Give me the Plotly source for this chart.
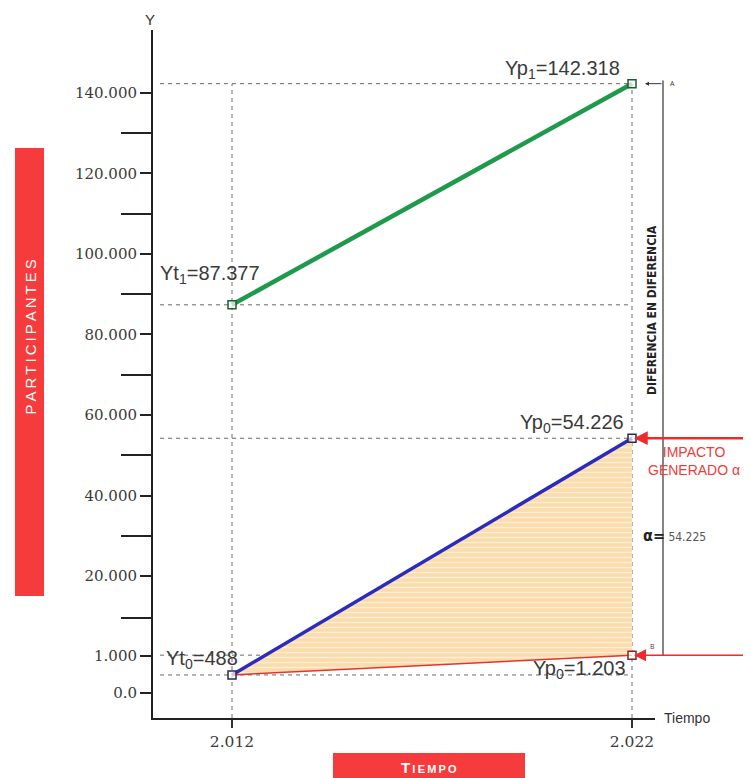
import numpy as np
import plotly.graph_objects as go

# ---------------- data ----------------
years = [2012, 2022]
x_tick_labels = ["2.012", "2.022"]
treated = [87377, 142318]          # Yt1 -> Yp1 (green)
counterfactual = [488, 54226]      # Yt0 -> Yp0 (blue)
control = [488, 1203]              # Yt0 -> Yp0 (red)
y_tick_values = [0, 1000, 20000, 40000, 60000, 80000, 100000, 120000, 140000]
y_tick_labels = ["0.0", "1.000", "20.000", "40.000", "60.000", "80.000",
                 "100.000", "120.000", "140.000"]
y_minor_values = [10000, 30000, 50000, 70000, 90000, 110000, 130000]
alpha_value = "54.225"

# ---------------- broken (piecewise linear) y scale ----------------
BREAK_VALUES = [0, 1000, 20000, 200000]
BREAK_UNITS = [-9.07, 0.12, 20.0, 200.0]


def scale(v):
    return np.interp(np.asarray(v, dtype=float), BREAK_VALUES, BREAK_UNITS)


def fmt(v):
    return f"{v:,}".replace(",", ".")


# ---------------- layout geometry ----------------
# the page body has an 8px margin, so the figure is 8px smaller than the window
BODY = 8
W, H = 751 - BODY, 778 - BODY
PL, PR, PT, PB = 153, 655, 30, 718          # plot area in page pixels
ML, MR, MT, MB = PL - BODY, 751 - PR, PT - BODY, 778 - PB
PW, PH = PR - PL, PB - PT
Y_RANGE = [-15.28, 155.65]
X_RANGE = [2010.025, 2022.575]


def px(x):
    return (x - PL) / PW


def py(y):
    return (PB - y) / PH


RED = "#f53b3b"
DASH = "#6a6a6a"
DASH_STYLE = "4px,4px"

fig = go.Figure()

# blue (counterfactual) line
fig.add_trace(go.Scatter(
    x=years, y=scale(counterfactual), mode="lines",
    line=dict(color="#2b2bc0", width=3.5), hoverinfo="skip", showlegend=False))
# red (control) line with hatched fill to blue
fig.add_trace(go.Scatter(
    x=years, y=scale(control), mode="lines",
    line=dict(color="#e8322c", width=1.5),
    fill="tonexty", fillcolor="#fcdcaa",
    fillpattern=dict(shape="-", bgcolor="#fcdcaa", fgcolor="#ffffff", size=5, solidity=0.3),
    hoverinfo="skip", showlegend=False))
# green (treated) line
fig.add_trace(go.Scatter(
    x=years, y=scale(treated), mode="lines",
    line=dict(color="#1f9a4c", width=4.5), hoverinfo="skip", showlegend=False))

# markers
mk = dict(symbol="square", size=8, color="rgba(255,255,255,0.7)")
fig.add_trace(go.Scatter(x=years, y=scale(treated), mode="markers",
                         marker=dict(**mk, line=dict(color="#1d5e33", width=1.5)),
                         hoverinfo="skip", showlegend=False))
fig.add_trace(go.Scatter(x=years, y=scale(counterfactual), mode="markers",
                         marker=dict(**mk, line=dict(color="#2a2a55", width=1.5)),
                         hoverinfo="skip", showlegend=False))
fig.add_trace(go.Scatter(x=[years[1]], y=scale([control[1]]), mode="markers",
                         marker=dict(**mk, line=dict(color="#7a2a2a", width=1.5)),
                         hoverinfo="skip", showlegend=False))

shapes = []
# dashed guide lines
x_left_guide = 2010.2
for v in [treated[1], treated[0], counterfactual[1], control[1], control[0]]:
    shapes.append(dict(type="line", xref="x", yref="y", x0=x_left_guide, x1=years[1],
                       y0=float(scale(v)), y1=float(scale(v)),
                       line=dict(color=DASH, width=1, dash=DASH_STYLE), layer="below"))
for x in years:
    shapes.append(dict(type="line", xref="x", yref="y", x0=x, x1=x,
                       y0=Y_RANGE[0], y1=float(scale(treated[1])),
                       line=dict(color=DASH, width=1, dash=DASH_STYLE), layer="below"))

# difference bracket (vertical line right of plot)
shapes.append(dict(type="line", xref="paper", yref="y", x0=px(663), x1=px(663),
                   y0=float(scale(control[1])), y1=float(scale(treated[1])) + 0.8,
                   line=dict(color="#333333", width=1.2)))

# red label boxes
shapes.append(dict(type="rect", xref="paper", yref="paper",
                   x0=px(15), x1=px(44), y0=py(596), y1=py(148),
                   fillcolor=RED, line=dict(width=0)))
shapes.append(dict(type="rect", xref="paper", yref="paper",
                   x0=px(333), x1=px(525), y0=py(790), y1=py(753),
                   fillcolor=RED, line=dict(width=0)))

label_font = dict(family="Liberation Sans, Arial, sans-serif", size=20, color="#3a3a3a")
ann = []
# point labels
ann.append(dict(x=years[1], y=float(scale(treated[1])), xref="x", yref="y",
                text=f"Yp<sub>1</sub>={fmt(treated[1])}", showarrow=False,
                xanchor="right", yanchor="bottom", xshift=-10, yshift=0, font=label_font))
ann.append(dict(x=years[0], y=float(scale(treated[0])), xref="x", yref="y",
                text=f"Yt<sub>1</sub>={fmt(treated[0])}", showarrow=False,
                xanchor="center", yanchor="bottom", xshift=-22, yshift=16, font=label_font))
ann.append(dict(x=years[1], y=float(scale(counterfactual[1])), xref="x", yref="y",
                text=f"Yp<sub>0</sub>={fmt(counterfactual[1])}", showarrow=False,
                xanchor="right", yanchor="bottom", xshift=-6, yshift=0, font=label_font))
ann.append(dict(x=years[0], y=float(scale(counterfactual[0])), xref="x", yref="y",
                text=f"Yt<sub>0</sub>={fmt(counterfactual[0])}", showarrow=False,
                xanchor="right", yanchor="bottom", xshift=8, yshift=1, font=label_font))
ann.append(dict(x=years[1], y=float(scale(control[1])), xref="x", yref="y",
                text=f"Yp<sub>0</sub>={fmt(control[1])}", showarrow=False,
                xanchor="right", yanchor="top", xshift=-4, yshift=0, font=label_font))

# red arrows pointing at Yp0 values
arrow_len = 751 - 632 + 4
ann.append(dict(x=years[1], y=float(scale(counterfactual[1])), xref="x", yref="y",
                text="", showarrow=True, ax=arrow_len, ay=0,
                arrowhead=2, arrowsize=1.1, arrowwidth=2.5, arrowcolor="#ee2a2a", standoff=2))
ann.append(dict(x=years[1], y=float(scale(control[1])), xref="x", yref="y",
                text="", showarrow=True, ax=arrow_len, ay=0,
                arrowhead=2, arrowsize=1.6, arrowwidth=1.5, arrowcolor="#ee2a2a", standoff=2))
# small black arrow at the top of the bracket
ann.append(dict(x=years[1], y=float(scale(treated[1])), xref="x", yref="y",
                text="", showarrow=True, ax=31, ay=0,
                arrowhead=2, arrowsize=0.8, arrowwidth=1, arrowcolor="#333333", standoff=13))
ann.append(dict(x=px(672), y=float(scale(treated[1])), xref="paper", yref="y",
                xanchor="center", yanchor="middle",
                text="A", showarrow=False, font=dict(size=7, color="#333333")))
ann.append(dict(x=px(652), y=float(scale(control[1])) + 2.2, xref="paper", yref="y",
                xanchor="center", yanchor="middle",
                text="B", showarrow=False, font=dict(size=7, color="#7a2a2a")))

# right side texts
ann.append(dict(x=px(694), y=py(461), xref="paper", yref="paper",
                xanchor="center", yanchor="middle",
                text="IMPACTO<br>GENERADO α", showarrow=False, align="center",
                font=dict(family="Liberation Sans, Arial, sans-serif", size=14, color="#ee3b3b")))
ann.append(dict(x=px(641), y=py(535), xref="paper", yref="paper",
                xanchor="left", yanchor="middle",
                text="<b>α=</b><span style='font-size:12px;color:#555'> " + alpha_value + "</span>",
                showarrow=False,
                font=dict(family="DejaVu Sans Condensed, Liberation Sans Narrow, sans-serif",
                          size=16, color="#222222")))
ann.append(dict(x=px(652), y=py(310), xref="paper", yref="paper",
                xanchor="center", yanchor="middle",
                text="<b>DIFERENCIA EN DIFERENCIA</b>", textangle=-90, showarrow=False,
                font=dict(family="DejaVu Sans Condensed, Liberation Sans Narrow, sans-serif",
                          size=12, color="#222222")))

# axis captions
ann.append(dict(x=px(150), y=py(19), xref="paper", yref="paper", text="Y",
                xanchor="center", yanchor="middle",
                showarrow=False, font=dict(family="Liberation Sans, Arial, sans-serif",
                                           size=15, color="#333333")))
ann.append(dict(x=px(662), y=py(718), xref="paper", yref="paper", text="Tiempo",
                xanchor="left", yanchor="middle", showarrow=False,
                font=dict(family="Liberation Sans, Arial, sans-serif", size=14, color="#333333")))
ann.append(dict(x=px(29.5), y=py(337), xref="paper", yref="paper",
                xanchor="center", yanchor="middle",
                text="\u2009".join("PARTICIPANTES"), textangle=-90, showarrow=False,
                font=dict(family="Liberation Sans, Arial, sans-serif", size=15, color="#ffffff")))
ann.append(dict(x=px(429), y=py(767), xref="paper", yref="paper",
                xanchor="center", yanchor="middle",
                text="<b>T<span style='font-size:11px'>\u2009I\u2009E\u2009M\u2009P\u2009O</span></b>",
                showarrow=False,
                font=dict(family="Liberation Sans, Arial, sans-serif", size=15, color="#ffffff")))

fig.update_layout(
    width=W, height=H,
    margin=dict(l=ML, r=MR, t=MT, b=MB, pad=0),
    paper_bgcolor="white", plot_bgcolor="white",
    showlegend=False,
    shapes=shapes, annotations=ann,
    xaxis=dict(range=X_RANGE, showgrid=False, zeroline=False,
               showline=True, linecolor="#222222", linewidth=2,
               tickmode="array", tickvals=years, ticktext=x_tick_labels,
               ticks="outside", ticklen=8, tickwidth=1.5, tickcolor="#333333",
               tickfont=dict(family="DejaVu Serif, serif", size=15.5, color="#3a3a3a")),
    yaxis=dict(range=Y_RANGE, showgrid=False, zeroline=False,
               showline=True, linecolor="#222222", linewidth=2,
               tickmode="array", tickvals=list(scale(y_tick_values)), ticktext=y_tick_labels,
               ticks="outside", ticklen=11, tickwidth=2, tickcolor="#222222",
               tickfont=dict(family="DejaVu Serif, serif", size=15, color="#3a3a3a"),
               minor=dict(tickmode="array", tickvals=list(scale(y_minor_values)),
                          ticks="outside", ticklen=30, tickwidth=2, tickcolor="#222222",
                          showgrid=False)),
)

fig.write_html("out.html")
